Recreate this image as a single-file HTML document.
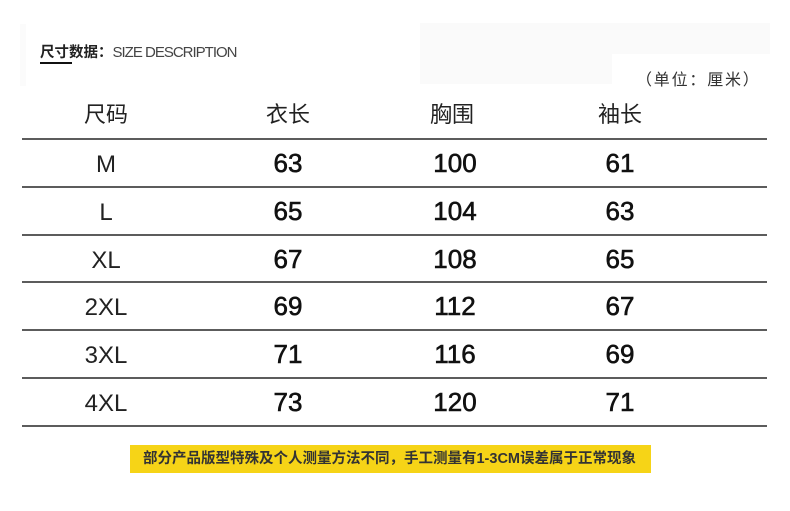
<!DOCTYPE html>
<html>
<head>
<meta charset="utf-8">
<style>
  html,body{margin:0;padding:0;background:#fff;}
  body{width:790px;height:511px;position:relative;overflow:hidden;font-family:"Liberation Sans","Noto Sans CJK SC",sans-serif;}
  .abs{position:absolute;}
  .faint1{left:420px;top:23px;width:350px;height:31px;background:#fafafa;}
  .faint2{left:420px;top:54px;width:192px;height:30px;background:#fafafa;}
  .faint3{left:20px;top:24px;width:6px;height:62px;background:#fbfbfb;}
  .title{left:40px;top:43px;font-size:14.5px;font-weight:bold;color:#222;font-family:"Noto Sans CJK SC",sans-serif;line-height:18px;white-space:nowrap;}
  .title .en{font-weight:normal;color:#444;font-family:"Liberation Sans",sans-serif;font-size:15px;letter-spacing:-1px;}
  .uline{left:40px;top:62px;width:32px;height:2px;background:#111;}
  .unit{left:636px;top:67px;font-size:16px;color:#333;font-family:"Noto Sans CJK SC",sans-serif;line-height:22px;white-space:nowrap;letter-spacing:1.8px;}
  .line{left:22px;width:745px;height:2px;background:#5c5c5c;}
  .cell{position:absolute;width:120px;height:48px;display:flex;align-items:center;justify-content:center;white-space:nowrap;}
  .hd{font-family:"Noto Sans CJK SC",sans-serif;font-size:22px;color:#222;}
  .sz{font-size:24px;color:#222;}
  .num{font-size:26px;color:#111;-webkit-text-stroke:0.6px #111;}
  .note{left:130px;top:445px;width:521px;height:28px;background:#f6d417;}
  .note span{position:absolute;left:13px;top:0;line-height:28px;font-size:14.5px;color:#333;font-weight:bold;font-family:"Liberation Sans","Noto Sans CJK SC",sans-serif;white-space:nowrap;}
</style>
</head>
<body>
  <div class="abs faint1"></div>
  <div class="abs faint2"></div>
  <div class="abs faint3"></div>

  <div class="abs title">尺寸数据：<span class="en">SIZE DESCRIPTION</span></div>
  <div class="abs uline"></div>
  <div class="abs unit">（单位：厘米）</div>

  <!-- header -->
  <div class="cell hd" style="left:46px;top:89px;">尺码</div>
  <div class="cell hd" style="left:228px;top:89px;">衣长</div>
  <div class="cell hd" style="left:392px;top:89px;">胸围</div>
  <div class="cell hd" style="left:560px;top:89px;">袖长</div>

  <div class="abs line" style="top:138px;"></div>
  <div class="abs line" style="top:186px;"></div>
  <div class="abs line" style="top:234px;"></div>
  <div class="abs line" style="top:281px;"></div>
  <div class="abs line" style="top:329px;"></div>
  <div class="abs line" style="top:377px;"></div>
  <div class="abs line" style="top:425px;"></div>

  <!-- rows -->
  <div class="cell sz" style="left:46px;top:141px;">M</div>
  <div class="cell num" style="left:228px;top:139px;">63</div>
  <div class="cell num" style="left:395px;top:139px;">100</div>
  <div class="cell num" style="left:560px;top:139px;">61</div>

  <div class="cell sz" style="left:46px;top:189px;">L</div>
  <div class="cell num" style="left:228px;top:187px;">65</div>
  <div class="cell num" style="left:395px;top:187px;">104</div>
  <div class="cell num" style="left:560px;top:187px;">63</div>

  <div class="cell sz" style="left:46px;top:237px;">XL</div>
  <div class="cell num" style="left:228px;top:235px;">67</div>
  <div class="cell num" style="left:395px;top:235px;">108</div>
  <div class="cell num" style="left:560px;top:235px;">65</div>

  <div class="cell sz" style="left:46px;top:284px;">2XL</div>
  <div class="cell num" style="left:228px;top:282px;">69</div>
  <div class="cell num" style="left:395px;top:282px;">112</div>
  <div class="cell num" style="left:560px;top:282px;">67</div>

  <div class="cell sz" style="left:46px;top:332px;">3XL</div>
  <div class="cell num" style="left:228px;top:330px;">71</div>
  <div class="cell num" style="left:395px;top:330px;">116</div>
  <div class="cell num" style="left:560px;top:330px;">69</div>

  <div class="cell sz" style="left:46px;top:380px;">4XL</div>
  <div class="cell num" style="left:228px;top:378px;">73</div>
  <div class="cell num" style="left:395px;top:378px;">120</div>
  <div class="cell num" style="left:560px;top:378px;">71</div>

  <div class="abs note"><span>部分产品版型特殊及个人测量方法不同，手工测量有1-3CM误差属于正常现象</span></div>
</body>
</html>
